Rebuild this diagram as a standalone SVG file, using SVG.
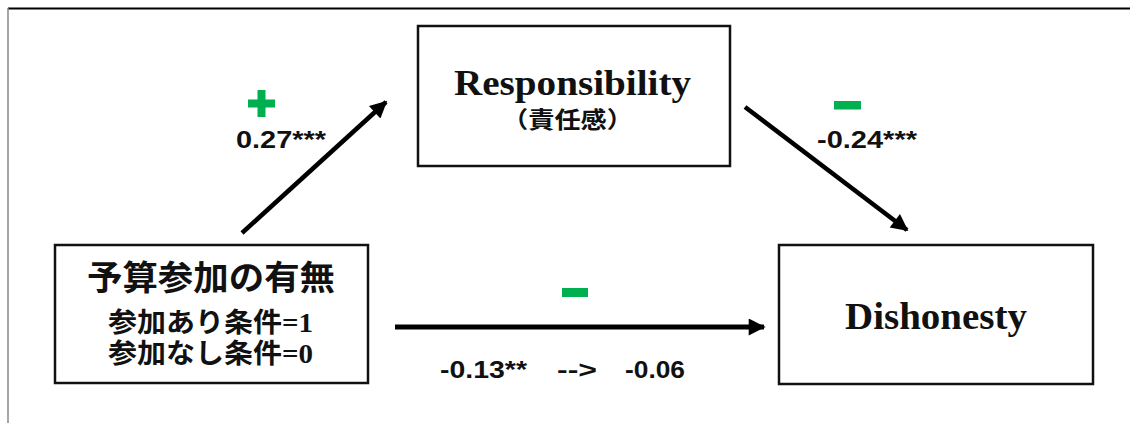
<svg xmlns="http://www.w3.org/2000/svg" width="1130" height="423" viewBox="0 0 1130 423">
<style>
.box{fill:#fff;stroke:#111;stroke-width:2.5}
.en{font-family:"Liberation Serif","Noto Sans CJK JP",serif;font-weight:bold;fill:#111}
.jp{font-family:"Liberation Serif","Noto Sans CJK JP",sans-serif;font-weight:bold;fill:#111}
.num{font-family:"Liberation Sans",Arial,sans-serif;font-weight:bold;fill:#111;font-size:24px}
.conn{stroke:#000;fill:none}
.sign{fill:#00B050}
</style>
<defs>
<marker id="ah" viewBox="0 0 10 10" refX="9" refY="5" markerWidth="21" markerHeight="17" markerUnits="userSpaceOnUse" orient="auto">
<path d="M0,0 L10,5 L0,10 Z" fill="#000"/>
</marker>
</defs>
<rect width="1130" height="423" fill="#fff"/>
<line x1="8" y1="8.5" x2="1130" y2="8.5" stroke="#000" stroke-width="2"/>
<line x1="8" y1="8" x2="8" y2="423" stroke="#888" stroke-width="1.5"/>

<g id="connectors">
<line class="conn" x1="242" y1="233" x2="386" y2="102" stroke-width="4.5" marker-end="url(#ah)"/>
<line class="conn" x1="745" y1="107" x2="907" y2="230" stroke-width="4.5" marker-end="url(#ah)"/>
<line class="conn" x1="395" y1="327" x2="764" y2="327" stroke-width="5" marker-end="url(#ah)"/>
</g>

<g id="labels">
<path class="sign" d="M257.5,90 h8 v9.5 h9.5 v8 h-9.5 v9.5 h-8 v-9.5 h-9.5 v-8 h9.5 Z"/>
<text class="num" x="236" y="148" textLength="90" lengthAdjust="spacingAndGlyphs">0.27***</text>
<rect class="sign" x="834" y="101" width="27" height="8.5"/>
<text class="num" x="817" y="148" textLength="100" lengthAdjust="spacingAndGlyphs">-0.24***</text>
<rect class="sign" x="562" y="288" width="26" height="9"/>
<text class="num" x="440" y="378" textLength="87" lengthAdjust="spacingAndGlyphs">-0.13**</text>
<text class="num" x="557" y="378" textLength="40" lengthAdjust="spacingAndGlyphs">--&gt;</text>
<text class="num" x="625" y="378" textLength="60" lengthAdjust="spacingAndGlyphs">-0.06</text>
</g>

<g id="node-responsibility">
<rect class="box" x="418" y="26" width="312" height="140"/>
<text class="en" x="454" y="95" font-size="35" textLength="237" lengthAdjust="spacingAndGlyphs">Responsibility</text>
<text class="jp" x="502" y="128" font-size="23" textLength="131" lengthAdjust="spacingAndGlyphs">（責任感）</text>
</g>

<g id="node-budget">
<rect class="box" x="55" y="245" width="313" height="138"/>
<text class="jp" x="87" y="290" font-size="34" textLength="248" lengthAdjust="spacingAndGlyphs">予算参加の有無</text>
<text class="jp" x="108" y="332" font-size="27" textLength="205" lengthAdjust="spacingAndGlyphs">参加あり条件=1</text>
<text class="jp" x="108" y="363" font-size="27" textLength="205" lengthAdjust="spacingAndGlyphs">参加なし条件=0</text>
</g>

<g id="node-dishonesty">
<rect class="box" x="779" y="245" width="314" height="139"/>
<text class="en" x="845" y="329" font-size="37" textLength="182" lengthAdjust="spacingAndGlyphs">Dishonesty</text>
</g>
</svg>
